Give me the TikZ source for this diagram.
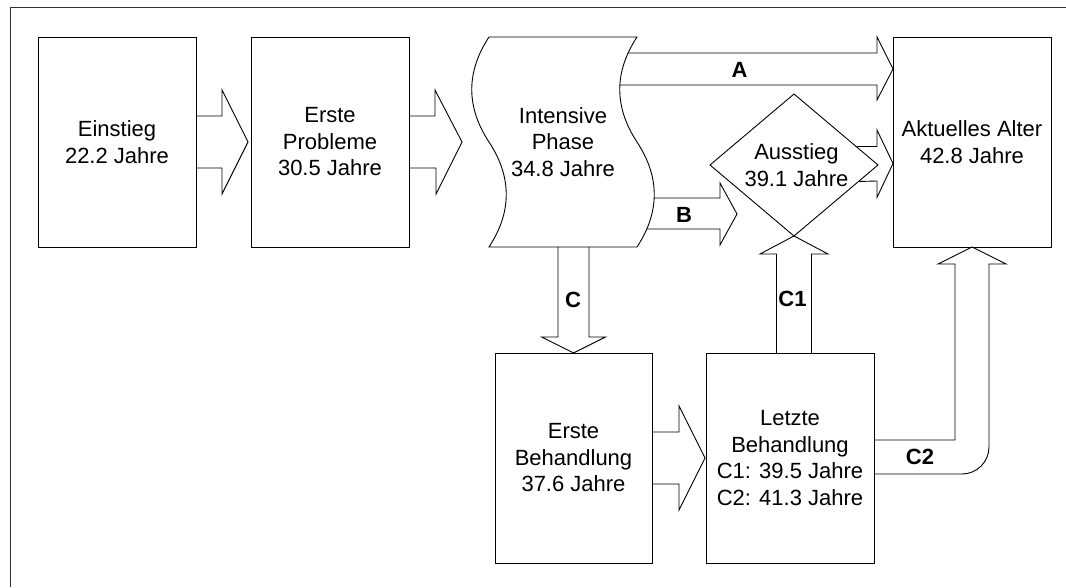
\documentclass[tikz,border=0pt]{standalone}
\usepackage{fontspec}
\setmainfont{Liberation Sans}
\usetikzlibrary{calc, shapes.geometric}

\begin{document}
\begin{tikzpicture}[
  x=1pt, y=1pt, line width=0.9pt,
  box/.style={draw, minimum height=210pt, inner sep=0pt, outer sep=0pt, align=center, font=\fontsize{22}{26.5}\selectfont},
  txt/.style={align=center, inner sep=0pt, outer sep=0pt, font=\fontsize{22}{26.5}\selectfont},
  tag/.style={inner sep=0pt, font=\fontsize{22}{26}\selectfont\bfseries},
  fat/.style={draw, line join=miter},
]
\useasboundingbox (0,0) rectangle (1066,587);
% Frame
\draw[black!80] (10,0) -- (10,580) -- (1066,580);

% Top row: stages
\node[box, minimum width=158pt] (einstieg) at (117,445) {Einstieg\\22.2 Jahre};
\node[box, minimum width=158pt] (probleme) at (330,445) {Erste\\Probleme\\30.5 Jahre};
\node[txt, minimum width=148pt, minimum height=210pt] (intensive) at (563,445) {Intensive\\Phase\\34.8 Jahre};
\draw (intensive.north west) .. controls +(-23,-35) and +(-23,35) .. (intensive.west)
  .. controls +(23,-35) and +(23,35) .. (intensive.south west) -- (intensive.south east)
  .. controls +(23,35) and +(23,-35) .. (intensive.east)
  .. controls +(-23,35) and +(-23,-35) .. (intensive.north east) -- cycle;
\node[box, minimum width=158pt] (aktuell) at (972,445) {Aktuelles Alter\\42.8 Jahre};

% Exit
\node[draw, diamond, minimum width=168pt, minimum height=142pt, inner sep=0pt, outer sep=0pt] (ausstieg) at (794,422) {};
\node[txt] (ausstiegtext) at (796.5,422) {Ausstieg\\39.1 Jahre};

% Bottom row: treatment
\node[box, minimum width=157pt] (erstebeh) at (573.5,129) {Erste\\Behandlung\\37.6 Jahre};
\node[box, minimum width=168pt] (letztebeh) at (790,129) {Letzte\\Behandlung\\C1: 39.5 Jahre\\C2: 41.3 Jahre};

% Block arrows
\draw[fat] ([yshift=26pt]einstieg.east) -- ++(26,0) -- ++(0,26) -- ([xshift=-3pt]probleme.west)
  -- ++(-26,-52) -- ++(0,26) -- ([yshift=-26pt]einstieg.east);
\draw[fat] ([yshift=26pt]probleme.east) -- ++(26,0) -- ++(0,26) -- ([xshift=-27pt]intensive.west)
  -- ++(-26,-52) -- ++(0,26) -- ([yshift=-26pt]probleme.east);
\draw[fat] ($(intensive.north east)+(-9,-16)$) -- ($(aktuell.north west)+(-16,-16)$) -- ++(0,16)
  -- ($(aktuell.north west)+(0,-32)$) -- ++(-16,-31) -- ++(0,15) -- ($(intensive.north east)+(-17,-48)$);
\draw[fat] ($(intensive.south east)+(17,49)$) -- ($(ausstieg.west)+(10,-33)$) -- ++(0,15)
  -- ($(ausstieg.west)+(27,-49)$) -- ++(-17,-31) -- ++(0,16) -- ($(intensive.south east)+(10,18)$);
\draw[fat] ($(ausstieg.east)+(-21,18.5)$) -- ($(aktuell.west)+(-16,-4.5)$) -- ++(0,16.5)
  -- ($(aktuell.west)+(0,-21.5)$) -- ++(-16,-34) -- ++(0,16.5) -- ($(ausstieg.east)+(-20,-16.5)$);
\draw[fat] ($(erstebeh.north |- intensive.south)+(-15.5,0)$) -- ($(erstebeh.north)+(-15.5,16)$) -- ++(-16.5,0)
  -- (erstebeh.north) -- ++(32,16) -- ++(-16.5,0) -- ($(erstebeh.north |- intensive.south)+(15.5,0)$);
\draw[fat] ([yshift=26pt]erstebeh.east) -- ++(27,0) -- ++(0,26) -- ([xshift=-1pt]letztebeh.west)
  -- ++(-26,-52) -- ++(0,26) -- ([yshift=-26pt]erstebeh.east);
\draw[fat] ($(ausstieg.south |- letztebeh.north)+(-17.5,0)$) -- ($(ausstieg.south)+(-17.5,-18)$) -- ++(-16.5,0)
  -- (ausstieg.south) -- ++(34,-18) -- ++(-16.5,0) -- ($(ausstieg.south |- letztebeh.north)+(17.5,0)$);
\draw[fat] ([yshift=18pt]letztebeh.east) -| ($(aktuell.south)+(-17,-17)$) -- ++(-17,0)
  -- (aktuell.south) -- ++(34,-17) -- ++(-17,0)
  -- ($(aktuell.south |- letztebeh.east)+(17,11)$) arc[start angle=0, end angle=-90, radius=27pt]
  -- ([yshift=-16pt]letztebeh.east);

% Path labels
\node[tag] (taga) at (739.5,517.5) {A};
\node[tag] (tagb) at (684,372.5) {B};
\node[tag] (tagc) at (573,287.5) {C};
\node[tag] (tagcone) at (792.5,288.5) {C1};
\node[tag] (tagctwo) at (920,130.5) {C2};
\end{tikzpicture}
\end{document}
